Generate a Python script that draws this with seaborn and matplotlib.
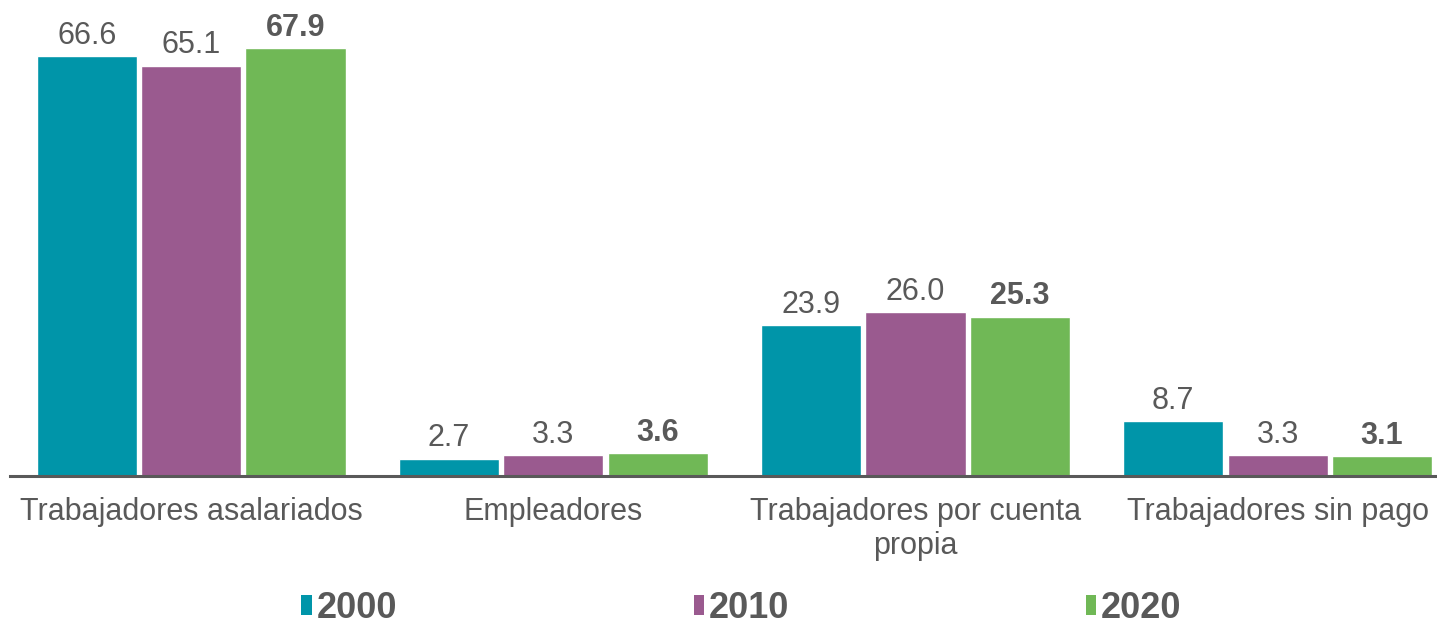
import pandas as pd
import matplotlib.pyplot as plt
import seaborn as sns
from matplotlib.patches import Patch

# Data
categories = ['Trabajadores asalariados', 'Empleadores',
              'Trabajadores por cuenta\npropia', 'Trabajadores sin pago']
years = ['2000', '2010', '2020']
v2000 = [66.6, 2.7, 23.9, 8.7]
v2010 = [65.1, 3.3, 26.0, 3.3]
v2020 = [67.9, 3.6, 25.3, 3.1]
colors = ['#0095A9', '#9A5A8F', '#70B856']
text_color = '#595959'

df = pd.DataFrame({
    'categoria': categories * 3,
    'anio': [y for y in years for _ in categories],
    'valor': v2000 + v2010 + v2020,
})

sns.set_style('white')
plt.rcParams['font.family'] = ['Liberation Sans', 'DejaVu Sans']

fig = plt.figure(figsize=(14.37, 6.26), dpi=100)
ax = fig.add_axes([0.007, 0.2396, 0.993, 0.755])

sns.barplot(data=df, x='categoria', y='valor', hue='anio', palette=colors,
            width=0.865, gap=0.04, saturation=1, ax=ax, legend=False)

for i, cont in enumerate(ax.containers):
    ax.bar_label(cont, fmt='%.1f', padding=4, fontsize=22, color=text_color,
                 fontweight='bold' if i == 2 else 'normal')

ax.set_ylim(0, 75)
ax.set_xlim(-0.5, 3.44)
ax.set_xlabel('')
ax.set_ylabel('')
ax.set_yticks([])
ax.tick_params(axis='x', length=0, labelsize=22, labelcolor=text_color, pad=15)
for s in ['top', 'right', 'left']:
    ax.spines[s].set_visible(False)
ax.spines['bottom'].set_color('#595959')
ax.spines['bottom'].set_linewidth(2.2)

handles = [Patch(facecolor=c, edgecolor='none') for c in colors]
leg = fig.legend(handles, years, loc='center', bbox_to_anchor=(0.516, 0.028),
                 ncol=3, frameon=False, handlelength=0.28, handleheight=0.5,
                 handletextpad=0.15, columnspacing=8.2,
                 prop={'size': 26, 'weight': 'bold'})
for t in leg.get_texts():
    t.set_color(text_color)

fig.savefig('out.png', dpi=100)
